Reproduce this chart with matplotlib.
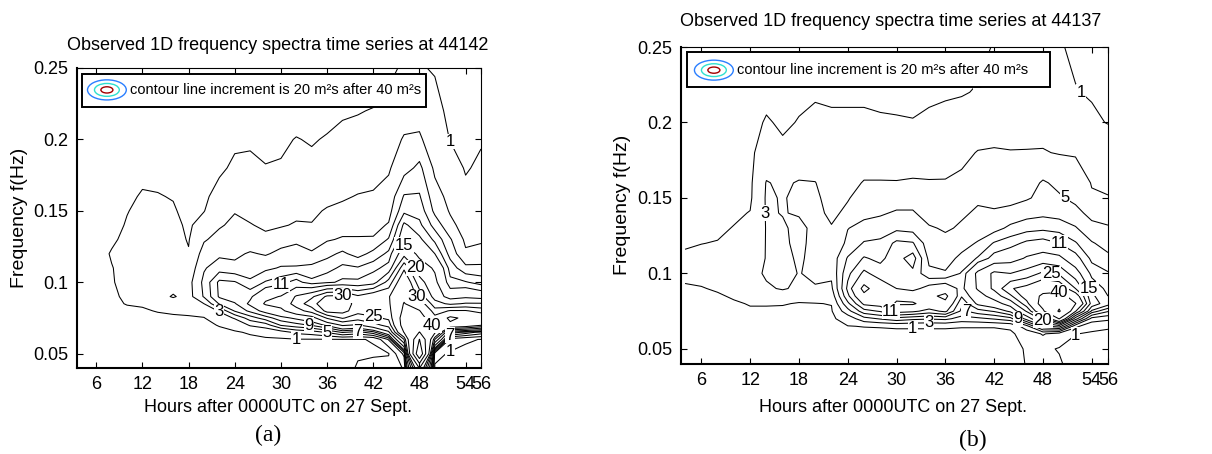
import numpy as np
import matplotlib
matplotlib.use('Agg')
import matplotlib.pyplot as plt
from matplotlib.patches import Ellipse, Rectangle

plt.rcParams['font.family'] = ['Liberation Sans', 'DejaVu Sans']

# grid of the observed spectra: hours after 0000UTC 27 Sept, frequency (Hz)
hours = [4, 6, 8, 10, 12, 14, 16, 18, 20, 22, 24, 26, 28, 30,
         32, 34, 36, 38, 40, 42, 44, 46, 48, 50, 52, 54, 56]
freqs = [0.04, 0.05, 0.06, 0.065, 0.07, 0.075, 0.08, 0.085, 0.09, 0.10,
         0.11, 0.12, 0.13, 0.14, 0.15, 0.16, 0.18, 0.20, 0.22, 0.25]

# spectral density (m^2 s), one row per hour, values along freqs
spec_44142 = [
    [0.1, 0.2, 0.3, 0.3, 0.4, 0.4, 0.5, 0.5, 0.6, 0.6, 0.5, 0.5, 0.4, 0.3, 0.3, 0.2, 0.2, 0.1, 0.1, 0.1],
    [0.1, 0.2, 0.3, 0.4, 0.4, 0.5, 0.5, 0.6, 0.6, 0.7, 0.6, 0.5, 0.4, 0.4, 0.3, 0.3, 0.2, 0.2, 0.1, 0.1],
    [0.1, 0.2, 0.3, 0.4, 0.5, 0.6, 0.7, 0.8, 0.8, 0.9, 0.95, 1.1, 0.8, 0.6, 0.5, 0.4, 0.3, 0.2, 0.2, 0.1],
    [0.1, 0.2, 0.3, 0.4, 0.5, 0.6, 0.8, 1.05, 1.2, 1.4, 1.4, 1.4, 1.3, 1.1, 0.95, 0.8, 0.5, 0.3, 0.2, 0.1],
    [0.1, 0.2, 0.3, 0.4, 0.5, 0.7, 0.9, 1.1, 1.4, 1.7, 1.7, 1.6, 1.5, 1.4, 1.3, 1.1, 0.7, 0.4, 0.2, 0.1],
    [0.1, 0.2, 0.3, 0.4, 0.6, 0.8, 1.05, 1.5, 2.2, 1.9, 1.8, 1.7, 1.5, 1.4, 1.2, 1.05, 0.7, 0.4, 0.2, 0.1],
    [0.1, 0.2, 0.3, 0.5, 0.7, 0.9, 1.1, 1.8, 3.2, 2.0, 1.8, 1.6, 1.5, 1.3, 1.1, 0.95, 0.6, 0.4, 0.2, 0.1],
    [0.1, 0.2, 0.3, 0.5, 0.7, 0.9, 1.2, 1.7, 2.2, 2.3, 1.6, 1.1, 0.9, 0.8, 0.7, 0.6, 0.5, 0.3, 0.2, 0.1],
    [0.2, 0.3, 0.5, 0.6, 0.8, 0.95, 1.5, 3.0, 5.2, 5.5, 4.8, 3.8, 2.8, 1.6, 0.95, 0.8, 0.5, 0.3, 0.2, 0.1],
    [0.2, 0.3, 0.6, 0.8, 1.05, 1.8, 3.2, 7.2, 9.3, 9.5, 6.0, 4.6, 3.6, 2.8, 2.0, 1.4, 0.8, 0.4, 0.2, 0.1],
    [0.2, 0.4, 0.7, 0.9, 1.4, 3.2, 7.2, 8.8, 10.2, 9.2, 5.5, 4.6, 4.0, 3.4, 2.9, 2.2, 1.2, 0.8, 0.3, 0.1],
    [0.2, 0.4, 0.8, 1.1, 3.2, 6.0, 9.5, 11.5, 10.5, 7.5, 5.5, 5.2, 3.8, 3.1, 2.5, 2.0, 1.3, 0.8, 0.3, 0.1],
    [0.2, 0.4, 0.8, 1.5, 4.0, 8.0, 12.0, 15.5, 14.0, 9.2, 6.5, 4.8, 3.4, 2.7, 2.3, 1.8, 1.05, 0.7, 0.4, 0.1],
    [0.2, 0.4, 0.8, 2.0, 7.2, 10.2, 14.0, 16.5, 15.2, 10.2, 7.2, 5.5, 4.2, 2.8, 2.4, 2.0, 1.1, 0.8, 0.4, 0.1],
    [0.2, 0.4, 0.9, 3.5, 8.2, 11.5, 18.0, 22.0, 20.5, 12.0, 7.2, 5.8, 4.6, 3.2, 2.5, 2.0, 1.4, 1.05, 0.5, 0.2],
    [0.2, 0.4, 0.9, 4.0, 9.2, 13.0, 22.0, 28.0, 24.0, 9.5, 7.6, 5.2, 4.2, 3.1, 2.6, 2.1, 1.3, 0.9, 0.5, 0.2],
    [0.2, 0.4, 0.9, 5.2, 11.5, 20.5, 32.0, 34.0, 31.0, 10.5, 8.2, 6.4, 4.8, 3.6, 3.2, 2.4, 1.6, 1.1, 0.6, 0.2],
    [0.2, 0.5, 0.95, 7.2, 15.5, 25.5, 32.0, 33.0, 31.5, 11.5, 9.5, 7.4, 5.2, 4.2, 3.4, 2.8, 1.8, 1.2, 0.9, 0.3],
    [1.2, 0.8, 0.95, 6.2, 14.5, 22.0, 27.0, 28.0, 26.0, 11.5, 9.2, 6.2, 5.2, 4.2, 3.4, 3.1, 2.0, 1.3, 0.95, 0.3],
    [1.3, 0.9, 1.05, 8.2, 18.0, 24.0, 28.0, 29.0, 29.5, 13.0, 10.2, 7.6, 5.2, 4.3, 3.7, 3.2, 2.3, 1.5, 1.05, 0.4],
    [1.6, 0.9, 5.2, 14.0, 22.0, 26.0, 28.0, 29.0, 29.5, 22.0, 12.0, 9.5, 7.2, 5.2, 4.2, 3.6, 2.8, 2.0, 1.4, 0.7],
    [3.2, 5.5, 25.0, 40.5, 45.0, 45.0, 42.0, 40.5, 38.0, 36.0, 29.0, 18.0, 13.0, 11.5, 8.5, 7.2, 4.2, 3.2, 2.0, 1.2],
    [40.5, 100.0, 80.5, 60.5, 50.0, 45.0, 40.5, 34.0, 28.0, 22.0, 17.0, 14.0, 11.5, 9.5, 8.2, 7.2, 5.5, 3.3, 2.2, 1.1],
    [0.8, 1.5, 25.0, 42.0, 38.0, 32.0, 27.0, 22.0, 18.0, 16.0, 14.5, 11.0, 8.5, 6.2, 4.5, 3.8, 2.6, 1.8, 1.4, 0.9],
    [0.3, 0.8, 2.0, 10.5, 38.0, 42.0, 30.5, 19.0, 13.0, 9.5, 8.2, 6.2, 5.2, 3.5, 2.8, 2.4, 1.6, 0.95, 0.7, 0.5],
    [0.3, 0.6, 1.2, 8.2, 35.5, 38.0, 30.5, 20.5, 14.0, 9.2, 5.5, 3.3, 2.6, 2.2, 1.8, 1.3, 0.9, 0.7, 0.5, 0.4],
    [0.3, 0.6, 0.95, 6.2, 30.5, 35.0, 28.0, 20.5, 13.0, 8.2, 5.5, 3.5, 2.8, 2.2, 1.8, 1.5, 1.2, 0.9, 0.6, 0.4],
]

spec_44137 = [
    [0.1, 0.2, 0.3, 0.4, 0.5, 0.6, 0.7, 0.8, 0.9, 1.2, 1.15, 0.9, 0.7, 0.6, 0.5, 0.4, 0.3, 0.2, 0.1, 0.1],
    [0.1, 0.2, 0.3, 0.4, 0.5, 0.6, 0.7, 0.8, 0.95, 1.3, 1.3, 0.98, 0.8, 0.6, 0.5, 0.4, 0.3, 0.2, 0.1, 0.1],
    [0.1, 0.2, 0.3, 0.4, 0.5, 0.6, 0.7, 0.9, 1.1, 1.4, 1.4, 1.05, 0.8, 0.6, 0.5, 0.4, 0.3, 0.2, 0.1, 0.1],
    [0.1, 0.2, 0.3, 0.4, 0.5, 0.6, 0.9, 1.1, 1.3, 1.6, 1.5, 1.3, 1.05, 0.8, 0.7, 0.6, 0.4, 0.3, 0.2, 0.1],
    [0.1, 0.2, 0.4, 0.5, 0.6, 0.9, 1.05, 1.3, 1.6, 2.2, 1.8, 1.5, 1.2, 1.05, 0.75, 0.7, 0.7, 0.65, 0.5, 0.3],
    [0.2, 0.3, 0.5, 0.6, 0.7, 0.8, 1.1, 1.8, 2.7, 3.3, 3.1, 3.1, 3.1, 3.15, 3.2, 3.1, 1.8, 1.1, 0.7, 0.4],
    [0.2, 0.3, 0.5, 0.6, 0.7, 0.85, 1.05, 2.0, 3.2, 3.8, 3.6, 3.3, 3.15, 2.95, 2.9, 2.7, 1.2, 0.85, 0.6, 0.3],
    [0.2, 0.3, 0.5, 0.6, 0.7, 0.8, 0.95, 1.3, 2.6, 2.9, 2.7, 2.6, 2.7, 3.1, 3.3, 3.15, 1.5, 1.05, 0.8, 0.4],
    [0.2, 0.3, 0.5, 0.6, 0.7, 0.8, 0.95, 1.8, 2.8, 3.5, 3.6, 3.5, 3.3, 3.4, 3.3, 3.05, 1.8, 1.3, 0.85, 0.5],
    [0.2, 0.3, 0.5, 0.6, 0.7, 0.85, 1.05, 1.8, 2.6, 3.4, 3.8, 3.5, 3.1, 2.7, 2.4, 2.1, 1.6, 1.1, 0.9, 0.5],
    [0.2, 0.3, 0.7, 0.95, 1.8, 4.2, 6.5, 8.5, 9.5, 8.5, 7.2, 5.4, 4.95, 3.3, 2.9, 2.5, 1.7, 1.15, 0.85, 0.5],
    [0.2, 0.3, 0.6, 1.05, 4.2, 8.2, 11.5, 14.0, 16.2, 11.5, 9.2, 7.2, 5.5, 4.6, 3.6, 3.1, 2.0, 1.2, 0.8, 0.5],
    [0.2, 0.3, 0.6, 1.1, 5.2, 9.2, 12.0, 13.0, 12.5, 10.0, 8.5, 7.5, 5.8, 4.8, 3.8, 3.1, 2.0, 1.1, 0.8, 0.4],
    [0.2, 0.3, 0.6, 1.2, 6.2, 12.0, 15.5, 14.0, 11.0, 9.5, 10.2, 9.5, 6.5, 5.2, 4.2, 3.1, 1.8, 1.1, 0.7, 0.4],
    [0.2, 0.3, 0.6, 1.2, 5.5, 11.5, 15.5, 13.0, 10.2, 10.5, 12.0, 9.2, 6.2, 5.2, 4.2, 3.2, 1.9, 1.05, 0.7, 0.4],
    [0.2, 0.3, 0.6, 1.2, 5.2, 10.2, 13.0, 14.0, 12.0, 7.5, 6.5, 5.8, 5.2, 4.2, 3.5, 3.1, 2.2, 1.2, 0.8, 0.5],
    [0.2, 0.3, 0.6, 1.2, 5.5, 11.5, 14.0, 16.0, 13.0, 7.2, 6.2, 5.5, 4.8, 4.2, 3.5, 3.1, 2.3, 1.25, 0.9, 0.6],
    [0.2, 0.3, 0.6, 1.1, 4.2, 6.5, 7.5, 9.2, 10.2, 9.2, 7.5, 6.2, 5.2, 4.8, 4.2, 3.4, 2.5, 1.3, 0.95, 0.6],
    [0.2, 0.3, 0.6, 1.1, 4.5, 8.2, 11.5, 13.0, 15.5, 16.0, 9.2, 7.2, 5.8, 5.2, 4.8, 4.2, 3.1, 1.8, 1.05, 0.8],
    [0.2, 0.3, 0.6, 1.1, 5.2, 9.2, 13.0, 17.0, 21.0, 21.0, 12.0, 9.2, 6.2, 5.2, 4.5, 3.8, 3.2, 2.0, 1.4, 1.05],
    [0.2, 0.3, 0.7, 1.3, 6.2, 11.5, 17.0, 24.0, 29.5, 20.0, 13.0, 10.2, 7.5, 5.5, 4.5, 3.8, 3.1, 2.0, 1.5, 1.1],
    [1.1, 1.2, 1.8, 4.2, 12.0, 20.5, 28.0, 33.0, 32.0, 22.0, 15.5, 11.5, 8.2, 6.2, 4.8, 4.2, 3.1, 2.2, 1.6, 1.2],
    [1.6, 1.3, 3.2, 10.5, 22.0, 38.0, 45.0, 42.0, 36.0, 26.0, 17.0, 12.0, 8.5, 6.5, 5.5, 5.2, 3.1, 2.4, 1.8, 1.3],
    [1.2, 0.9, 2.0, 12.0, 40.5, 62.0, 55.0, 45.0, 35.0, 24.0, 16.0, 11.0, 8.2, 6.2, 5.2, 4.6, 2.9, 2.0, 1.6, 1.1],
    [0.3, 0.5, 1.05, 3.5, 12.0, 30.5, 40.5, 34.0, 25.0, 17.0, 12.0, 9.2, 7.2, 5.5, 4.6, 4.2, 2.8, 1.6, 1.05, 0.8],
    [0.2, 0.4, 0.8, 1.5, 4.2, 10.2, 18.0, 16.0, 13.0, 10.2, 8.5, 7.2, 5.5, 4.5, 3.2, 2.9, 2.1, 1.2, 0.9, 0.6],
    [0.2, 0.4, 0.7, 1.2, 3.5, 7.2, 12.0, 11.0, 10.2, 9.2, 7.5, 6.2, 5.2, 4.2, 3.1, 2.6, 1.8, 0.95, 0.7, 0.5],
]

levels = [1, 3, 5, 7, 9, 11, 15, 20, 25, 30, 40, 60, 80, 100]
xticks = [6, 12, 18, 24, 30, 36, 42, 48, 54, 56]
yticks = [0.05, 0.1, 0.15, 0.2, 0.25]
yticklabels = ['0.05', '0.1', '0.15', '0.2', '0.25']
legend_text = 'contour line increment is 20 m\u00b2s after 40 m\u00b2s'

W, H = 1212, 454
fig = plt.figure(figsize=(W / 100, H / 100), dpi=100)


def px_axes(l, t, r, b):
    return fig.add_axes([l / W, 1 - b / H, (r - l) / W, (b - t) / H])


def draw_panel(ax, spec, box, icon):
    z = np.array(spec).T
    cs = ax.contour(hours, freqs, z, levels=levels, colors='k', linewidths=0.75)
    ax.set_xlim(3.5, 56)
    ax.set_ylim(0.04, 0.25)
    labels = ax.clabel(cs, fmt='%d', fontsize=12, inline=False)
    # matlab style: upright labels sitting on the line; drop the ones that collide
    r = fig.canvas.get_renderer()
    kept = []
    for t in labels:
        t.set_rotation(0)
        bb = t.get_window_extent(r).expanded(1.05, 1.0)
        if any(bb.overlaps(k) for k in kept):
            t.remove()
            continue
        kept.append(bb)
        t.set_bbox(dict(facecolor='white', edgecolor='none', pad=0.3))
    ax.set_xticks(xticks)
    ax.set_yticks(yticks)
    ax.set_yticklabels(yticklabels)
    ax.tick_params(direction='in', top=True, right=True, length=4,
                   labelsize=13, pad=6)
    for s in ['left', 'bottom']:
        ax.spines[s].set_linewidth(1.5)
    for s in ['top', 'right']:
        ax.spines[s].set_linewidth(0.8)
    # legend box with the little coloured contour icon
    x0, y0, x1, y1 = box
    ax.add_patch(Rectangle((x0, y0), x1 - x0, y1 - y0, transform=ax.transAxes,
                           facecolor='white', edgecolor='black', lw=1.4, zorder=5))
    cx, cy, w, h = icon
    for f, c in [(1.0, '#2a7fff'), (0.64, '#2fe0d0'), (0.31, '#a00000')]:
        ax.add_patch(Ellipse((cx, cy), w * f, h * f, transform=ax.transAxes,
                             fill=False, edgecolor=c, lw=1.0, zorder=6))
    ax.text(cx + w / 2 + 0.008, cy, legend_text, transform=ax.transAxes,
            fontsize=10.5, va='center', ha='left', zorder=7)


ax_a = px_axes(77, 68, 481, 368)
draw_panel(ax_a, spec_44142, (0.012, 0.87, 0.864, 0.98), (0.074, 0.927, 0.096, 0.067))
ax_b = px_axes(681, 47, 1108, 364)
draw_panel(ax_b, spec_44137, (0.014, 0.874, 0.864, 0.984), (0.077, 0.927, 0.091, 0.063))

fig.text(278 / W, 1 - 45 / H, 'Observed 1D frequency spectra time series at 44142',
         ha='center', va='center', fontsize=13)
fig.text(891 / W, 1 - 22 / H, 'Observed 1D frequency spectra time series at 44137',
         ha='center', va='center', fontsize=13)
fig.text(278 / W, 1 - 408 / H, 'Hours after 0000UTC on 27 Sept.',
         ha='center', va='center', fontsize=13)
fig.text(893 / W, 1 - 407 / H, 'Hours after 0000UTC on 27 Sept.',
         ha='center', va='center', fontsize=13)
fig.text(20 / W, 1 - 218 / H, 'Frequency f(Hz)', rotation=90,
         ha='center', va='center', fontsize=14)
fig.text(622 / W, 1 - 205 / H, 'Frequency f(Hz)', rotation=90,
         ha='center', va='center', fontsize=14)
fig.text(268 / W, 1 - 435 / H, '(a)', ha='center', va='center', fontsize=17,
         family='Liberation Serif')
fig.text(973 / W, 1 - 440 / H, '(b)', ha='center', va='center', fontsize=17,
         family='Liberation Serif')

fig.savefig('out.png', dpi=100)
